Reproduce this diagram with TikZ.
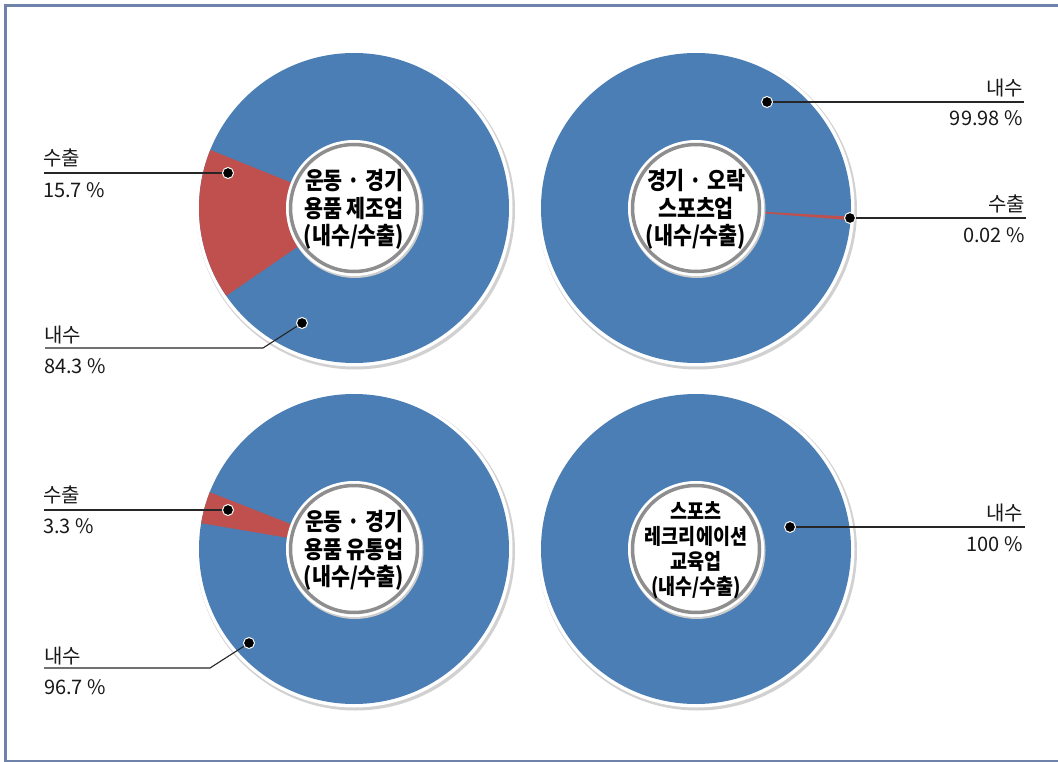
\documentclass[tikz,border=0pt]{standalone}
\usepackage{fontspec}
\setmainfont{Noto Sans CJK KR}
\newfontfamily\ctrfont[FakeStretch=0.86]{Noto Sans CJK KR}
\definecolor{pieblue}{HTML}{4A7EB4}
\definecolor{piered}{HTML}{C0504D}
\definecolor{ringgrey}{HTML}{8E8E8E}
\definecolor{framec}{HTML}{6E82AA}
\tikzset{
  lbl/.style={font=\fontsize{20}{22}\selectfont, inner sep=0pt, text=black!90},
  ctr/.style={font=\ctrfont\bfseries\fontsize{24}{27.5}\selectfont, align=center, inner sep=0pt},
  ctrsmall/.style={font=\ctrfont\bfseries\fontsize{21.5}{25}\selectfont, align=center, inner sep=0pt},
  pdot/.style={circle, fill=black, draw=white, line width=1pt, minimum size=11pt, inner sep=0pt},
  leader/.style={draw=black!85, line width=1.1pt},
  frameline/.style={draw=framec, line width=2.6pt},
}
\newcommand\donutbase[1]{%
  \fill[black!18] ($(#1)+(1.5,2)$) circle[radius=159.5];
  \fill[white] (#1) circle[radius=158.5];
  \fill[pieblue] (#1) circle[radius=155];
}
\newcommand\donuthole[1]{%
  \fill[black!20] ($(#1)+(1,1.5)$) circle[radius=68.5];
  \fill[white] (#1) circle[radius=68];
  \draw[ringgrey, line width=3.5pt] (#1) circle[radius=63.5];
}
\usetikzlibrary{calc}
\begin{document}
\begin{tikzpicture}[x=1pt,y=-1pt]
\useasboundingbox (0,0) rectangle (1058,762);
\fill[white] (0,0) rectangle (1058,762);
% frame
\coordinate (fTL) at (5.5,5.5);
\coordinate (fTR) at (1058,5.5);
\coordinate (fBL) at (5.5,760.8);
\coordinate (fBR) at (1058,760.8);
\draw[frameline] (fTR) -- (fTL) -- (fBL) -- (fBR);

% centres
\coordinate (C1) at (354,208);
\coordinate (C2) at (696,208);
\coordinate (C3) at (354,549);
\coordinate (C4) at (696,549);

% chart 1
\donutbase{C1}
\fill[piered] (C1) -- ++(-158:155) arc[start angle=-158,end angle=-214.5,radius=155] -- cycle;
\donuthole{C1}
\node[ctr] (c1) at (354,209.5) {운동 · 경기\\용품 제조업\\(내수/수출)};

% chart 2
\donutbase{C2}
\fill[piered] (C2) -- ++(3.2:155) arc[start angle=3.2,end angle=4.5,radius=155] -- cycle;
\donuthole{C2}
\node[ctr] (c2) at (696,209.5) {경기 · 오락\\스포츠업\\(내수/수출)};

% chart 3
\donutbase{C3}
\fill[piered] (C3) -- ++(-158.5:155) arc[start angle=-158.5,end angle=-170.4,radius=155] -- cycle;
\donuthole{C3}
\node[ctr] (c3) at (354,550.5) {운동 · 경기\\용품 유통업\\(내수/수출)};

% chart 4
\donutbase{C4}
\donuthole{C4}
\node[ctrsmall] (c4) at (696,550) {스포츠\\레크리에이션\\교육업\\(내수/수출)};

% leaders chart 1
\node[pdot] (d1a) at (228,173) {};
\coordinate (e1a) at (44,173);
\draw[leader] (d1a) -- (e1a);
\node[lbl, anchor=base west] (t1a) at (43,166) {수출};
\node[lbl, anchor=base west] (v1a) at (43,198) {15.7 \%};

\node[pdot] (d1b) at (302,323) {};
\coordinate (k1b) at (263,348);
\coordinate (e1b) at (45,348);
\draw[leader] (d1b) -- (k1b) -- (e1b);
\node[lbl, anchor=base west] (t1b) at (44,342) {내수};
\node[lbl, anchor=base west] (v1b) at (44,373) {84.3 \%};

% leaders chart 2
\node[pdot] (d2a) at (767,102) {};
\coordinate (e2a) at (1024,102);
\draw[leader] (d2a) -- (e2a);
\node[lbl, anchor=base east] (t2a) at (1023,96) {내수};
\node[lbl, anchor=base east] (v2a) at (1023,126) {99.98 \%};

\node[pdot] (d2b) at (850,218) {};
\coordinate (e2b) at (1026,218);
\draw[leader] (d2b) -- (e2b);
\node[lbl, anchor=base east] (t2b) at (1025,212) {수출};
\node[lbl, anchor=base east] (v2b) at (1025,243) {0.02 \%};

% leaders chart 3
\node[pdot] (d3a) at (228,510) {};
\coordinate (e3a) at (44,510);
\draw[leader] (d3a) -- (e3a);
\node[lbl, anchor=base west] (t3a) at (43,502) {수출};
\node[lbl, anchor=base west] (v3a) at (43,533) {3.3 \%};

\node[pdot] (d3b) at (249,643) {};
\coordinate (k3b) at (210,668);
\coordinate (e3b) at (44,668);
\draw[leader] (d3b) -- (k3b) -- (e3b);
\node[lbl, anchor=base west] (t3b) at (44,663) {내수};
\node[lbl, anchor=base west] (v3b) at (44,694) {96.7 \%};

% leaders chart 4
\node[pdot] (d4a) at (790,527) {};
\coordinate (e4a) at (1025,527);
\draw[leader] (d4a) -- (e4a);
\node[lbl, anchor=base east] (t4a) at (1023,520) {내수};
\node[lbl, anchor=base east] (v4a) at (1023,551) {100 \%};
\end{tikzpicture}
\end{document}
